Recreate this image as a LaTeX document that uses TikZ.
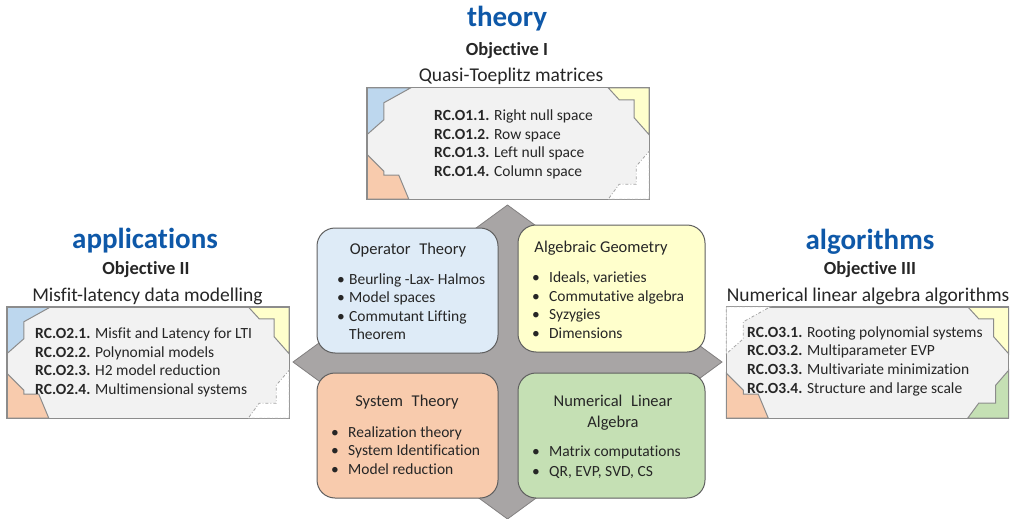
\documentclass[tikz,border=0pt]{standalone}
\usepackage{fontspec}
\setmainfont{Carlito}[Ligatures=CommonOff]
\definecolor{headblue}{RGB}{14,88,168}
\definecolor{ink}{RGB}{38,38,38}
\definecolor{diamondgray}{RGB}{168,165,165}
\definecolor{diamondedge}{RGB}{130,128,128}
\definecolor{boxedge}{RGB}{95,95,95}
\definecolor{opblue}{RGB}{222,235,247}
\definecolor{agyellow}{RGB}{255,255,204}
\definecolor{storange}{RGB}{248,203,173}
\definecolor{nlgreen}{RGB}{197,224,180}
\definecolor{pieceblue}{RGB}{189,215,238}
\definecolor{objfill}{RGB}{242,242,242}
\definecolor{objedge}{RGB}{140,140,140}
\newcommand\bul[1][17pt]{\makebox[#1][l]{\textbullet}}
\begin{document}
\begin{tikzpicture}[x=1pt,y=-1pt,
  every node/.style={text=ink, inner sep=0pt},
  heading/.style={font=\fontsize{29}{32}\selectfont\bfseries, text=headblue},
  objtitle/.style={font=\fontsize{18.5}{21}\selectfont\bfseries},
  objsub/.style={font=\fontsize{19.5}{22}\selectfont},
  objlist/.style={font=\fontsize{15.5}{18.7}\selectfont, align=left, anchor=west},
  objbox/.style={fill=objfill, minimum width=282pt, minimum height=111pt},
  objborder/.style={draw=objedge, line width=1.4pt},
  piece/.style={draw=objedge, line width=1pt},
  gappiece/.style={draw=objedge!80, line width=0.8pt, dash dot, fill=white},
  catbox/.style={draw=boxedge, line width=1pt, rounded corners=18pt},
  cattitle/.style={font=\fontsize{16.5}{21}\selectfont, align=center},
  catlist/.style={font=\fontsize{15.5}{18.5}\selectfont, align=left, anchor=west},
  tlpiece/.pic={\path[pic actions] (0,0) -- (44,0) -- (17,15) -- (17,32) -- (0,47) -- cycle;},
  trpiece/.pic={\path[pic actions] (0,0) -- (41,0) -- (30,12) -- (15,12) -- (15,30) -- (0,47) -- cycle;},
  blpiece/.pic={\path[pic actions] (0,0) -- (0,45) -- (17,28) -- (17,24) -- (32,24) -- (42,0) -- cycle;},
  brpiece/.pic={\path[pic actions] (0,0) -- (0,48) -- (13,33) -- (13,15) -- (30,15) -- (41,0) -- cycle;}
]
\useasboundingbox (0,0) rectangle (1015,519);

% central four-pointed backdrop
\coordinate (dN) at (507.5,205);
\coordinate (dE) at (722,362);
\coordinate (dS) at (507.5,519);
\coordinate (dW) at (293,362);
\filldraw[fill=diamondgray, draw=diamondedge, line width=0.8pt] (dN) -- (dE) -- (dS) -- (dW) -- cycle;

% the four research fields
\node[catbox, fill=opblue, minimum width=181pt, minimum height=125pt] (op) at (407.5,290.5) {};
\node[catbox, fill=agyellow, minimum width=187pt, minimum height=127pt] (ag) at (611.5,288.5) {};
\node[catbox, fill=storange, minimum width=181pt, minimum height=125pt] (st) at (407.5,435.5) {};
\node[catbox, fill=nlgreen, minimum width=187pt, minimum height=125pt] (nl) at (611.5,435.5) {};

\node[cattitle] (opT) at (408,250) {Operator\hspace{0.3em} Theory};
\node[catlist] (opL) at (337,306.5) {\bul[12pt]Beurling -Lax- Halmos\\ \bul[12pt]Model spaces\\ \bul[12pt]Commutant Lifting\\ \hspace*{12pt}Theorem};

\node[cattitle] (agT) at (601,248) {Algebraic Geometry};
\node[catlist] (agL) at (532,305) {\bul Ideals, varieties\\ \bul Commutative algebra\\ \bul Syzygies\\ \bul Dimensions};

\node[cattitle] (stT) at (407,402) {System\hspace{0.3em} Theory};
\node[catlist] (stL) at (331,450.5) {\bul Realization theory\\ \bul System Identification\\ \bul Model reduction};

\node[cattitle] (nlT) at (613,412.5) {Numerical\hspace{0.3em} Linear\\ Algebra};
\node[catlist] (nlL) at (532,462) {\bul Matrix computations\\[1.5pt] \bul QR, EVP, SVD, CS};

% objective I : theory
\node[heading] (thH) at (507,19) {theory};
\node[objtitle] (thO) at (507,51) {Objective I};
\node[objsub] (thS) at (511,76) {Quasi-Toeplitz matrices};
\node[objbox] (th) at (508,143.5) {};
\pic[piece, fill=pieceblue] at (th.north west) {tlpiece};
\pic[piece, fill=agyellow, xscale=-1] at (th.north east) {trpiece};
\pic[piece, fill=storange, yscale=-1] at (th.south west) {blpiece};
\draw[objborder] (th.north west) rectangle (th.south east);
\pic[gappiece, xscale=-1, yscale=-1] at (th.south east) {brpiece};
\node[objlist] (thL) at (434,144.5) {\textbf{RC.O1.1.} Right null space\\ \textbf{RC.O1.2.} Row space\\ \textbf{RC.O1.3.} Left null space\\ \textbf{RC.O1.4.} Column space};

% objective II : applications
\node[heading] (apH) at (145,241) {applications};
\node[objtitle] (apO) at (146,270) {Objective II};
\node[objsub] (apS) at (147.5,296) {Misfit-latency data modelling};
\node[objbox] (ap) at (148,362.5) {};
\pic[piece, fill=pieceblue] at (ap.north west) {tlpiece};
\pic[piece, fill=agyellow, xscale=-1] at (ap.north east) {trpiece};
\pic[piece, fill=storange, yscale=-1] at (ap.south west) {blpiece};
\draw[objborder] (ap.north west) rectangle (ap.south east);
\pic[gappiece, xscale=-1, yscale=-1] at (ap.south east) {brpiece};
\node[objlist] (apL) at (35,362.5) {\textbf{RC.O2.1.} Misfit and Latency for LTI\\ \textbf{RC.O2.2.} Polynomial models\\ \textbf{RC.O2.3.} H2 model reduction\\ \textbf{RC.O2.4.} Multimensional systems};

% objective III : algorithms
\node[heading] (alH) at (870,242) {algorithms};
\node[objtitle] (alO) at (870,270) {Objective III};
\node[objsub] (alS) at (868,296) {Numerical linear algebra algorithms};
\node[objbox] (al) at (867.5,362.5) {};
\pic[piece, fill=agyellow, xscale=-1] at (al.north east) {trpiece};
\pic[piece, fill=storange, yscale=-1] at (al.south west) {blpiece};
\pic[piece, fill=nlgreen, xscale=-1, yscale=-1] at (al.south east) {brpiece};
\draw[objborder] (al.north west) rectangle (al.south east);
\pic[gappiece] at (al.north west) {tlpiece};
\node[objlist] (alL) at (747,361) {\textbf{RC.O3.1.} Rooting polynomial systems\\ \textbf{RC.O3.2.} Multiparameter EVP\\ \textbf{RC.O3.3.} Multivariate minimization\\ \textbf{RC.O3.4.} Structure and large scale};
\end{tikzpicture}
\end{document}
